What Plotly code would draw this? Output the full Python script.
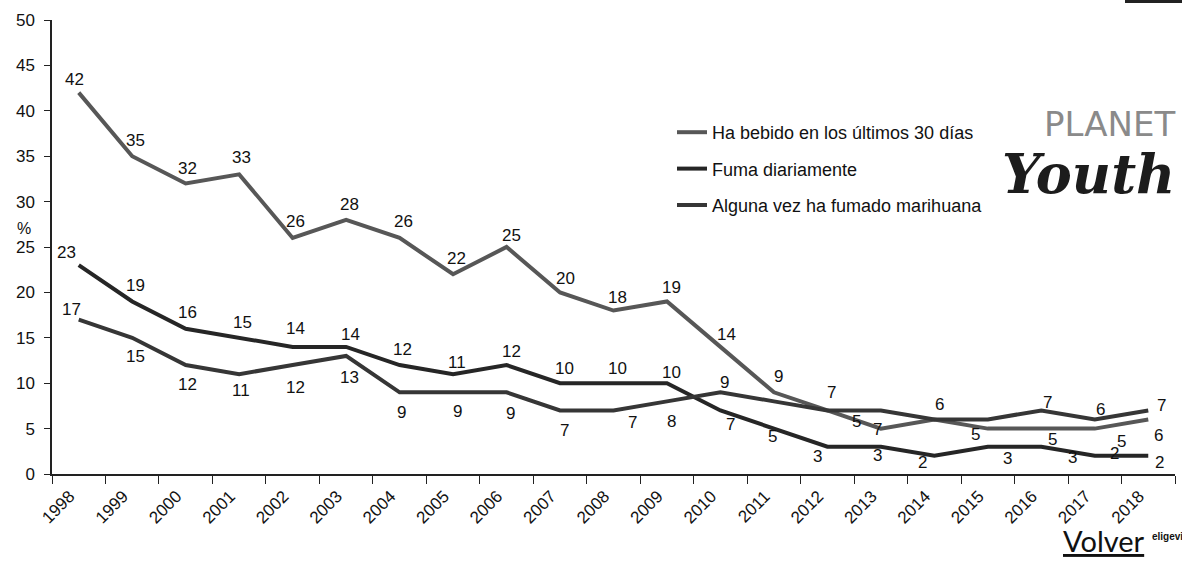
import plotly.graph_objects as go

# --- data -------------------------------------------------------------------
years = [str(y) for y in range(1998, 2019)]

bebido = [42, 35, 32, 33, 26, 28, 26, 22, 25, 20, 18, 19, 14, 9, 7, 5, 6, 5, 5, 5, 6]
fuma = [23, 19, 16, 15, 14, 14, 12, 11, 12, 10, 10, 10, 7, 5, 3, 3, 2, 3, 3, 2, 2]
marihuana = [17, 15, 12, 11, 12, 13, 9, 9, 9, 7, 7, 8, 9, 8, 7, 7, 6, 6, 7, 6, 7]

series_names = [
    "Ha bebido en los últimos 30 días",
    "Fuma diariamente",
    "Alguna vez ha fumado marihuana",
]

# value-label offsets in pixels (dx right, dy down) from each point; None = no label
bebido_lbl = [(-4, -13), (3, -16), (2, -15), (2, -17), (3, -16), (3, -15), (4, -16),
              (3, -16), (5, -12), (5, -14), (4, -13), (5, -14), (6, -12), (5, -16),
              (4, -18), (-24, -7), (5, -15), (-12, 6), (11, 11), (27, 13), (10, 16)]
fuma_lbl = [(-12, -13), (3, -16), (2, -16), (3, -15), (3, -18), (4, -12), (3, -16),
            (4, -12), (5, -14), (4, -15), (4, -15), (5, -11), (10, 14), (-1, 8),
            (-10, 10), (-3, 9), (-12, 7), (20, 12), (31, 11), (20, -2), (11, 7)]
marihuana_lbl = [(-7, -10), (3, 19), (2, 19), (2, 16), (3, 22), (3, 22), (2, 20),
                 (4, 19), (4, 21), (4, 20), (19, 12), (5, 20), (4, -10), None,
                 None, (-3, 19), None, None, (6, -8), (6, -10), (13, -5)]

colors = ["#575757", "#262626", "#363636"]

# --- geometry ---------------------------------------------------------------
W, H = 1182, 575
ML_, MR_, MT_, MB_ = 52, 7, 20, 101
PW, PH = W - ML_ - MR_, H - MT_ - MB_


def px_x(px):
    return (px - ML_) / PW


def px_y(py):
    return 1 - (py - MT_) / PH


FONT = "Liberation Sans, Arial, sans-serif"
TXT = "#111111"

fig = go.Figure()
annotations = []
for i, (vals, lbl) in enumerate([(bebido, bebido_lbl), (fuma, fuma_lbl),
                                 (marihuana, marihuana_lbl)]):
    fig.add_trace(go.Scatter(
        x=years,
        y=vals,
        name=series_names[i],
        legendgroup=f"g{i}",
        mode="lines",
        line=dict(color=colors[i], width=4),
        hoverinfo="x+y+name",
    ))
    for k, (v, off) in enumerate(zip(vals, lbl)):
        if off is None:
            continue
        # category axis: position annotations by category index
        annotations.append(dict(
            x=k, y=v, xref="x", yref="y", text=str(v), showarrow=False,
            xshift=off[0], yshift=-off[1],
            font=dict(family=FONT, size=17, color=TXT),
        ))

fig.update_layout(
    width=W,
    height=H,
    margin=dict(l=ML_, r=MR_, t=MT_, b=MB_),
    paper_bgcolor="white",
    plot_bgcolor="white",
    font=dict(family=FONT, size=15, color=TXT),
    showlegend=True,
    legend=dict(
        x=px_x(672), y=px_y(114), xanchor="left", yanchor="top",
        font=dict(family=FONT, size=18, color=TXT),
        tracegroupgap=10,
        bgcolor="rgba(0,0,0,0)",
        itemwidth=30,
    ),
    xaxis=dict(
        type="category",
        range=[-0.5, 20.5],
        tickangle=-45,
        tickson="boundaries",
        ticks="outside",
        ticklen=8,
        tickcolor="#222222",
        showline=True,
        linecolor="#222222",
        linewidth=1.5,
        showgrid=False,
        zeroline=False,
        ticklabelshift=-9,
        ticklabelstandoff=4,
        tickfont=dict(family=FONT, size=17, color=TXT),
    ),
    yaxis=dict(
        range=[0, 50],
        dtick=5,
        ticks="outside",
        ticklen=6,
        tickcolor="#222222",
        showline=True,
        linecolor="#222222",
        linewidth=1.5,
        showgrid=False,
        zeroline=False,
        ticklabelstandoff=6,
        tickfont=dict(family=FONT, size=17, color=TXT),
    ),
)

page_text = [
    # axis unit
    dict(x=px_x(15), y=px_y(228), text="%", showarrow=False,
         font=dict(family=FONT, size=16, color=TXT)),
    # logo
    dict(x=px_x(1042), y=px_y(124), text="PLANET", showarrow=False,
         font=dict(family="DejaVu Sans, sans-serif", size=34, color="#8a8a8a"),
         xanchor="left", yanchor="middle"),
    dict(x=px_x(1088), y=px_y(174), text="<b><i>Youth</i></b>", showarrow=False,
         font=dict(family="DejaVu Serif, serif", size=54, color="#1c1c1c"),
         xanchor="center", yanchor="middle"),
    # footer link
    dict(x=px_x(1104), y=px_y(540), text="<u>Volver</u>", showarrow=False,
         font=dict(family="Lato, Open Sans, sans-serif", size=29, color=TXT),
         xanchor="center", yanchor="middle"),
    dict(x=px_x(1150), y=px_y(536), text="<b>eligevi</b>", showarrow=False,
         font=dict(family=FONT, size=10, color=TXT),
         xanchor="left", yanchor="middle"),
]
for a in page_text:
    a.update(xref="paper", yref="paper")
fig.update_layout(annotations=annotations + page_text)

# dark strip at the top right corner of the page
fig.add_shape(type="rect", xref="paper", yref="paper",
              x0=px_x(1125), x1=px_x(1182), y0=px_y(0), y1=px_y(3),
              fillcolor="#222222", line=dict(width=0))

fig.write_html("out.html")
